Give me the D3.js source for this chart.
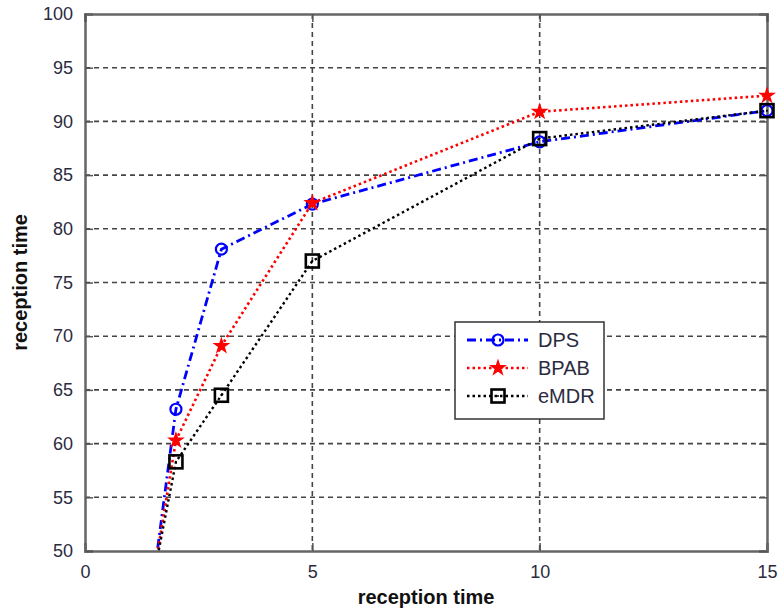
<!DOCTYPE html>
<html>
<head>
<meta charset="utf-8">
<script src="https://cdn.jsdelivr.net/npm/d3@7"></script>
<style>
  body { margin: 0; background: #fff; }
  text { font-family: "Liberation Sans", Arial, sans-serif; }
</style>
</head>
<body>
<svg id="chart" width="779" height="611"></svg>
<script>
// values
var xs = [1, 2, 3, 5, 10, 15];
var dps = [31, 63.2, 78.1, 82.3, 88.1, 91.0];
var bpab = [34.5, 60.3, 69.1, 82.4, 90.9, 92.4];
var emdr = [36.5, 58.3, 64.5, 77.0, 88.4, 91.0];
var xTicks = [0, 5, 10, 15];
var yTicks = [50, 55, 60, 65, 70, 75, 80, 85, 90, 95, 100];
var seriesNames = ["DPS", "BPAB", "eMDR"];

var svg = d3.select("#chart");
var margin = {top: 14, right: 12, bottom: 60, left: 85},
    width = 779 - margin.left - margin.right,
    height = 611 - margin.top - margin.bottom;

var x = d3.scaleLinear().domain([0, 15]).range([0, width]);
var y = d3.scaleLinear().domain([50, 100]).range([height, 0]);

var g = svg.append("g")
    .attr("transform", "translate(" + margin.left + "," + margin.top + ")");

g.append("defs").append("clipPath").attr("id", "clip")
    .append("rect").attr("width", width).attr("height", height);

// grid
g.append("g").selectAll("line").data(yTicks.slice(1, -1)).enter().append("line")
    .attr("x1", 0).attr("x2", width)
    .attr("y1", function (d) { return y(d); }).attr("y2", function (d) { return y(d); })
    .style("stroke", "#444").style("stroke-width", 1.6).style("stroke-dasharray", "5,4");
g.append("g").selectAll("line").data(xTicks.slice(1, -1)).enter().append("line")
    .attr("y1", 0).attr("y2", height)
    .attr("x1", function (d) { return x(d); }).attr("x2", function (d) { return x(d); })
    .style("stroke", "#444").style("stroke-width", 1.6).style("stroke-dasharray", "5,4");

// axes
g.append("g").attr("transform", "translate(0," + height + ")")
    .call(d3.axisBottom(x).tickValues(xTicks).tickSize(-8).tickPadding(14));
g.append("g")
    .call(d3.axisLeft(y).tickValues(yTicks).tickSize(-8).tickPadding(12));
g.append("g").attr("transform", "translate(" + width + ",0)")
    .call(d3.axisRight(y).tickValues(yTicks).tickSize(-8).tickFormat(""));
g.append("g")
    .call(d3.axisTop(x).tickValues(xTicks).tickSize(-8).tickFormat(""));
g.selectAll(".domain").style("stroke", "#666").style("stroke-width", 2.5);
g.selectAll(".tick line").style("stroke", "#555").style("stroke-width", 1.5);
g.selectAll(".tick text").style("font-size", "18px").style("fill", "#2b2b3f")
    .style("font-family", "'Liberation Sans', Arial, sans-serif");

// series
var series = [
    {name: "DPS", values: dps, color: "#0000ff", dash: "9,4,2,4", width: 2.8, marker: "circle"},
    {name: "BPAB", values: bpab, color: "#ff0000", dash: "2.5,3", width: 2.6, marker: "star"},
    {name: "eMDR", values: emdr, color: "#000000", dash: "2.5,3", width: 2.4, marker: "square"}
];

var line = d3.line()
    .x(function (d, i) { return x(xs[i]); })
    .y(function (d) { return y(d); });

var plot = g.append("g").attr("clip-path", "url(#clip)");

function drawMarker(sel, s) {
    if (s.marker === "circle") {
        sel.append("circle").attr("r", 5.5)
            .style("fill", "none").style("stroke", s.color).style("stroke-width", 2.2);
    } else if (s.marker === "star") {
        sel.append("path").attr("d", d3.symbol().type(d3.symbolStar).size(55))
            .style("fill", s.color).style("stroke", s.color).style("stroke-width", 1.5);
    } else {
        sel.append("rect").attr("x", -6.5).attr("y", -6.5).attr("width", 13).attr("height", 13)
            .style("fill", "none").style("stroke", s.color).style("stroke-width", 2.6);
        sel.append("circle").attr("r", 1).style("fill", s.color);
    }
}

series.forEach(function (s) {
    plot.append("path").datum(s.values)
        .attr("d", line)
        .style("fill", "none")
        .style("stroke", s.color)
        .style("stroke-width", s.width)
        .style("stroke-dasharray", s.dash);
});
// markers are not clipped at the frame, only points inside the y range are drawn
series.forEach(function (s) {
    var pts = s.values.map(function (v, i) { return [xs[i], v]; })
        .filter(function (p) { return p[1] >= 50; });
    g.selectAll(".m-" + s.name).data(pts).enter().append("g")
        .attr("class", "m-" + s.name)
        .attr("transform", function (d) { return "translate(" + x(d[0]) + "," + y(d[1]) + ")"; })
        .each(function () { drawMarker(d3.select(this), s); });
});

// legend
var legend = g.append("g").attr("transform", "translate(" + (455 - margin.left) + "," + (322 - margin.top) + ")");
legend.append("rect").attr("width", 149).attr("height", 97)
    .style("fill", "#fff").style("stroke", "#333").style("stroke-width", 1.5);
var items = legend.selectAll(".item").data(series).enter().append("g")
    .attr("transform", function (d, i) { return "translate(0," + (18 + i * 28) + ")"; });
items.append("line").attr("x1", 12).attr("x2", 73)
    .style("stroke", function (d) { return d.color; })
    .style("stroke-width", function (d) { return d.width; })
    .style("stroke-dasharray", function (d) { return d.dash; });
items.append("g").attr("transform", "translate(43,0)")
    .each(function (d) { drawMarker(d3.select(this), d); });
items.append("text").attr("x", 83).attr("y", 7)
    .style("font-size", "20px").style("fill", "#2b2b3f")
    .text(function (d, i) { return seriesNames[i]; });

// axis labels
svg.append("text")
    .attr("x", margin.left + width / 2).attr("y", 604)
    .attr("text-anchor", "middle")
    .style("font-size", "20px").style("font-weight", "bold").style("fill", "#111")
    .text("reception time");
svg.append("text")
    .attr("transform", "translate(27," + (margin.top + height / 2) + ") rotate(-90)")
    .attr("text-anchor", "middle")
    .style("font-size", "20px").style("font-weight", "bold").style("fill", "#111")
    .text("reception time");
</script>
</body>
</html>
